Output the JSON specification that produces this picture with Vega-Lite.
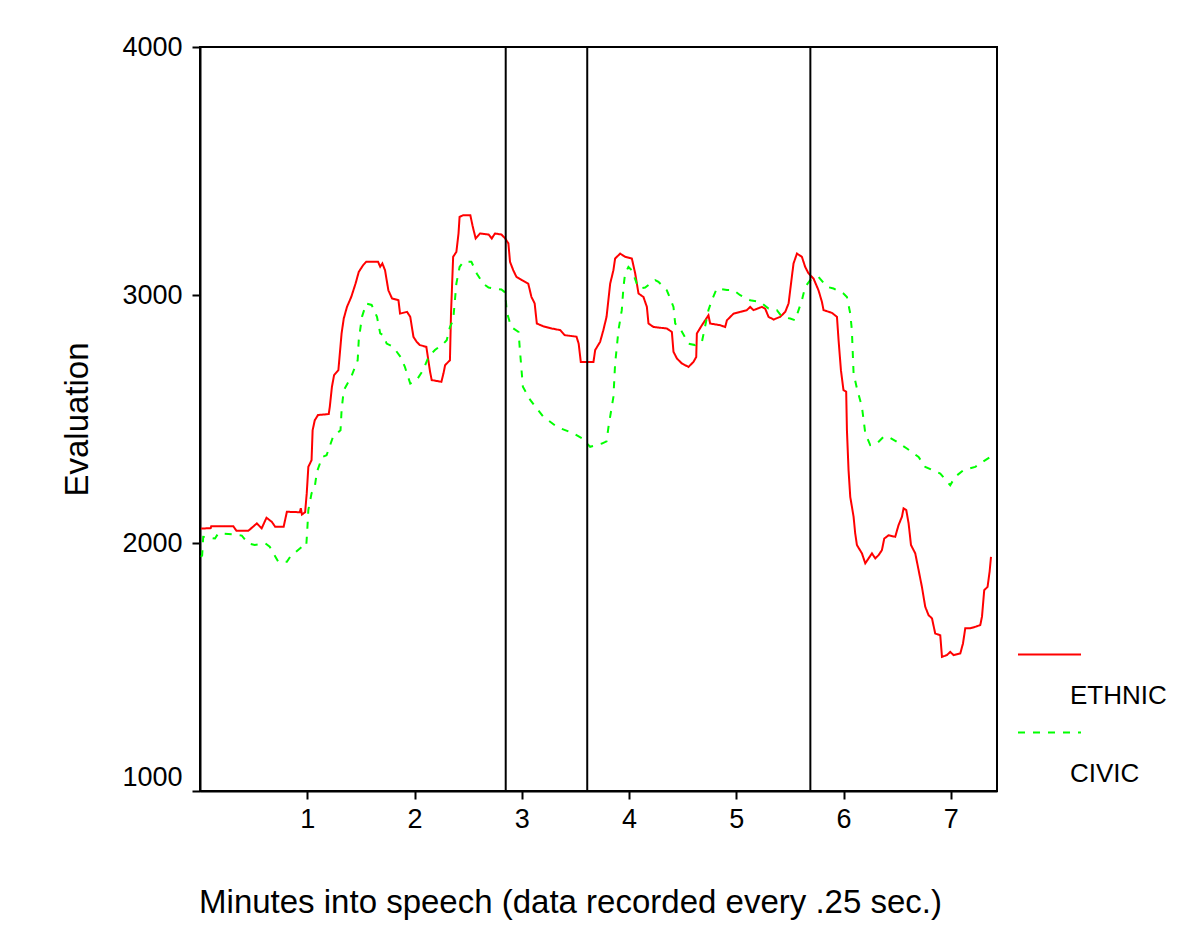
{
  "$schema": "https://vega.github.io/schema/vega-lite/v6.json",
  "description": "Evaluation over the course of a speech, ethnic vs civic",
  "width": 797,
  "height": 744,
  "autosize": {"type": "none"},
  "padding": {"left": 200, "top": 47, "right": 184, "bottom": 155},
  "background": "white",
  "datasets": {
    "speech": [
      {"s": "ETHNIC", "t": 0.01, "v": 2058}, {"s": "ETHNIC", "t": 0.10, "v": 2060}, {"s": "ETHNIC", "t": 0.105, "v": 2068},
      {"s": "ETHNIC", "t": 0.31, "v": 2068}, {"s": "ETHNIC", "t": 0.34, "v": 2049}, {"s": "ETHNIC", "t": 0.45, "v": 2049},
      {"s": "ETHNIC", "t": 0.53, "v": 2079}, {"s": "ETHNIC", "t": 0.575, "v": 2059}, {"s": "ETHNIC", "t": 0.62, "v": 2102},
      {"s": "ETHNIC", "t": 0.67, "v": 2085}, {"s": "ETHNIC", "t": 0.70, "v": 2066}, {"s": "ETHNIC", "t": 0.78, "v": 2066},
      {"s": "ETHNIC", "t": 0.81, "v": 2126}, {"s": "ETHNIC", "t": 0.93, "v": 2124}, {"s": "ETHNIC", "t": 0.94, "v": 2140},
      {"s": "ETHNIC", "t": 0.95, "v": 2115}, {"s": "ETHNIC", "t": 0.98, "v": 2124}, {"s": "ETHNIC", "t": 0.995, "v": 2200},
      {"s": "ETHNIC", "t": 1.01, "v": 2307}, {"s": "ETHNIC", "t": 1.04, "v": 2334}, {"s": "ETHNIC", "t": 1.05, "v": 2455},
      {"s": "ETHNIC", "t": 1.07, "v": 2495}, {"s": "ETHNIC", "t": 1.10, "v": 2516}, {"s": "ETHNIC", "t": 1.20, "v": 2520},
      {"s": "ETHNIC", "t": 1.21, "v": 2549}, {"s": "ETHNIC", "t": 1.23, "v": 2630}, {"s": "ETHNIC", "t": 1.25, "v": 2677},
      {"s": "ETHNIC", "t": 1.29, "v": 2697}, {"s": "ETHNIC", "t": 1.32, "v": 2845}, {"s": "ETHNIC", "t": 1.34, "v": 2905},
      {"s": "ETHNIC", "t": 1.37, "v": 2952}, {"s": "ETHNIC", "t": 1.41, "v": 2992}, {"s": "ETHNIC", "t": 1.45, "v": 3046},
      {"s": "ETHNIC", "t": 1.48, "v": 3093}, {"s": "ETHNIC", "t": 1.52, "v": 3120}, {"s": "ETHNIC", "t": 1.55, "v": 3134},
      {"s": "ETHNIC", "t": 1.66, "v": 3134}, {"s": "ETHNIC", "t": 1.68, "v": 3114}, {"s": "ETHNIC", "t": 1.70, "v": 3127},
      {"s": "ETHNIC", "t": 1.725, "v": 3100}, {"s": "ETHNIC", "t": 1.756, "v": 3019}, {"s": "ETHNIC", "t": 1.79, "v": 2986},
      {"s": "ETHNIC", "t": 1.85, "v": 2979}, {"s": "ETHNIC", "t": 1.865, "v": 2925}, {"s": "ETHNIC", "t": 1.93, "v": 2932},
      {"s": "ETHNIC", "t": 1.96, "v": 2912}, {"s": "ETHNIC", "t": 1.99, "v": 2831}, {"s": "ETHNIC", "t": 2.02, "v": 2811},
      {"s": "ETHNIC", "t": 2.05, "v": 2798}, {"s": "ETHNIC", "t": 2.11, "v": 2791}, {"s": "ETHNIC", "t": 2.145, "v": 2690},
      {"s": "ETHNIC", "t": 2.16, "v": 2657}, {"s": "ETHNIC", "t": 2.25, "v": 2650}, {"s": "ETHNIC", "t": 2.27, "v": 2684},
      {"s": "ETHNIC", "t": 2.285, "v": 2717}, {"s": "ETHNIC", "t": 2.33, "v": 2737}, {"s": "ETHNIC", "t": 2.34, "v": 2925},
      {"s": "ETHNIC", "t": 2.36, "v": 3154}, {"s": "ETHNIC", "t": 2.39, "v": 3174}, {"s": "ETHNIC", "t": 2.41, "v": 3248},
      {"s": "ETHNIC", "t": 2.42, "v": 3315}, {"s": "ETHNIC", "t": 2.455, "v": 3322}, {"s": "ETHNIC", "t": 2.52, "v": 3322},
      {"s": "ETHNIC", "t": 2.54, "v": 3281}, {"s": "ETHNIC", "t": 2.555, "v": 3254}, {"s": "ETHNIC", "t": 2.57, "v": 3228},
      {"s": "ETHNIC", "t": 2.61, "v": 3248}, {"s": "ETHNIC", "t": 2.69, "v": 3244}, {"s": "ETHNIC", "t": 2.72, "v": 3228},
      {"s": "ETHNIC", "t": 2.75, "v": 3248}, {"s": "ETHNIC", "t": 2.81, "v": 3244}, {"s": "ETHNIC", "t": 2.845, "v": 3228},
      {"s": "ETHNIC", "t": 2.875, "v": 3208}, {"s": "ETHNIC", "t": 2.89, "v": 3134}, {"s": "ETHNIC", "t": 2.92, "v": 3100},
      {"s": "ETHNIC", "t": 2.95, "v": 3073}, {"s": "ETHNIC", "t": 3.00, "v": 3060}, {"s": "ETHNIC", "t": 3.06, "v": 3046},
      {"s": "ETHNIC", "t": 3.09, "v": 2992}, {"s": "ETHNIC", "t": 3.12, "v": 2966}, {"s": "ETHNIC", "t": 3.14, "v": 2885},
      {"s": "ETHNIC", "t": 3.20, "v": 2874}, {"s": "ETHNIC", "t": 3.28, "v": 2865}, {"s": "ETHNIC", "t": 3.36, "v": 2858},
      {"s": "ETHNIC", "t": 3.40, "v": 2838}, {"s": "ETHNIC", "t": 3.51, "v": 2832}, {"s": "ETHNIC", "t": 3.53, "v": 2804},
      {"s": "ETHNIC", "t": 3.55, "v": 2730}, {"s": "ETHNIC", "t": 3.668, "v": 2730}, {"s": "ETHNIC", "t": 3.684, "v": 2778},
      {"s": "ETHNIC", "t": 3.73, "v": 2811}, {"s": "ETHNIC", "t": 3.76, "v": 2858}, {"s": "ETHNIC", "t": 3.79, "v": 2912},
      {"s": "ETHNIC", "t": 3.824, "v": 3046}, {"s": "ETHNIC", "t": 3.854, "v": 3100}, {"s": "ETHNIC", "t": 3.87, "v": 3147},
      {"s": "ETHNIC", "t": 3.917, "v": 3167}, {"s": "ETHNIC", "t": 3.963, "v": 3154}, {"s": "ETHNIC", "t": 4.026, "v": 3147},
      {"s": "ETHNIC", "t": 4.057, "v": 3087}, {"s": "ETHNIC", "t": 4.088, "v": 3006}, {"s": "ETHNIC", "t": 4.134, "v": 2992},
      {"s": "ETHNIC", "t": 4.166, "v": 2952}, {"s": "ETHNIC", "t": 4.181, "v": 2885}, {"s": "ETHNIC", "t": 4.228, "v": 2871},
      {"s": "ETHNIC", "t": 4.352, "v": 2865}, {"s": "ETHNIC", "t": 4.399, "v": 2851}, {"s": "ETHNIC", "t": 4.414, "v": 2771},
      {"s": "ETHNIC", "t": 4.446, "v": 2744}, {"s": "ETHNIC", "t": 4.492, "v": 2724}, {"s": "ETHNIC", "t": 4.554, "v": 2710},
      {"s": "ETHNIC", "t": 4.60, "v": 2730}, {"s": "ETHNIC", "t": 4.626, "v": 2750}, {"s": "ETHNIC", "t": 4.632, "v": 2845},
      {"s": "ETHNIC", "t": 4.679, "v": 2878}, {"s": "ETHNIC", "t": 4.74, "v": 2918}, {"s": "ETHNIC", "t": 4.756, "v": 2885},
      {"s": "ETHNIC", "t": 4.85, "v": 2878}, {"s": "ETHNIC", "t": 4.896, "v": 2871}, {"s": "ETHNIC", "t": 4.912, "v": 2898},
      {"s": "ETHNIC", "t": 4.974, "v": 2925}, {"s": "ETHNIC", "t": 5.036, "v": 2932}, {"s": "ETHNIC", "t": 5.098, "v": 2939},
      {"s": "ETHNIC", "t": 5.129, "v": 2952}, {"s": "ETHNIC", "t": 5.16, "v": 2939}, {"s": "ETHNIC", "t": 5.238, "v": 2952},
      {"s": "ETHNIC", "t": 5.269, "v": 2945}, {"s": "ETHNIC", "t": 5.30, "v": 2912}, {"s": "ETHNIC", "t": 5.347, "v": 2901},
      {"s": "ETHNIC", "t": 5.409, "v": 2912}, {"s": "ETHNIC", "t": 5.456, "v": 2932}, {"s": "ETHNIC", "t": 5.487, "v": 2966},
      {"s": "ETHNIC", "t": 5.502, "v": 3019}, {"s": "ETHNIC", "t": 5.533, "v": 3127}, {"s": "ETHNIC", "t": 5.565, "v": 3167},
      {"s": "ETHNIC", "t": 5.611, "v": 3154}, {"s": "ETHNIC", "t": 5.642, "v": 3113}, {"s": "ETHNIC", "t": 5.673, "v": 3087},
      {"s": "ETHNIC", "t": 5.72, "v": 3066}, {"s": "ETHNIC", "t": 5.766, "v": 3019}, {"s": "ETHNIC", "t": 5.798, "v": 2972},
      {"s": "ETHNIC", "t": 5.813, "v": 2939}, {"s": "ETHNIC", "t": 5.891, "v": 2928}, {"s": "ETHNIC", "t": 5.938, "v": 2912},
      {"s": "ETHNIC", "t": 5.953, "v": 2818}, {"s": "ETHNIC", "t": 5.975, "v": 2697}, {"s": "ETHNIC", "t": 5.999, "v": 2616},
      {"s": "ETHNIC", "t": 6.024, "v": 2610}, {"s": "ETHNIC", "t": 6.031, "v": 2455}, {"s": "ETHNIC", "t": 6.046, "v": 2294},
      {"s": "ETHNIC", "t": 6.062, "v": 2186}, {"s": "ETHNIC", "t": 6.093, "v": 2106}, {"s": "ETHNIC", "t": 6.108, "v": 2039},
      {"s": "ETHNIC", "t": 6.124, "v": 1992}, {"s": "ETHNIC", "t": 6.171, "v": 1958}, {"s": "ETHNIC", "t": 6.202, "v": 1918},
      {"s": "ETHNIC", "t": 6.233, "v": 1938}, {"s": "ETHNIC", "t": 6.264, "v": 1958}, {"s": "ETHNIC", "t": 6.295, "v": 1938},
      {"s": "ETHNIC", "t": 6.326, "v": 1951}, {"s": "ETHNIC", "t": 6.357, "v": 1971}, {"s": "ETHNIC", "t": 6.379, "v": 2018},
      {"s": "ETHNIC", "t": 6.419, "v": 2031}, {"s": "ETHNIC", "t": 6.481, "v": 2025}, {"s": "ETHNIC", "t": 6.512, "v": 2072},
      {"s": "ETHNIC", "t": 6.544, "v": 2106}, {"s": "ETHNIC", "t": 6.559, "v": 2140}, {"s": "ETHNIC", "t": 6.584, "v": 2133},
      {"s": "ETHNIC", "t": 6.606, "v": 2079}, {"s": "ETHNIC", "t": 6.628, "v": 1992}, {"s": "ETHNIC", "t": 6.668, "v": 1958},
      {"s": "ETHNIC", "t": 6.699, "v": 1891}, {"s": "ETHNIC", "t": 6.73, "v": 1823}, {"s": "ETHNIC", "t": 6.761, "v": 1743},
      {"s": "ETHNIC", "t": 6.792, "v": 1709}, {"s": "ETHNIC", "t": 6.824, "v": 1696}, {"s": "ETHNIC", "t": 6.854, "v": 1635},
      {"s": "ETHNIC", "t": 6.901, "v": 1628}, {"s": "ETHNIC", "t": 6.917, "v": 1541}, {"s": "ETHNIC", "t": 6.963, "v": 1548},
      {"s": "ETHNIC", "t": 6.994, "v": 1561}, {"s": "ETHNIC", "t": 7.025, "v": 1548}, {"s": "ETHNIC", "t": 7.088, "v": 1555},
      {"s": "ETHNIC", "t": 7.113, "v": 1595}, {"s": "ETHNIC", "t": 7.134, "v": 1656}, {"s": "ETHNIC", "t": 7.181, "v": 1656},
      {"s": "ETHNIC", "t": 7.227, "v": 1662}, {"s": "ETHNIC", "t": 7.274, "v": 1669}, {"s": "ETHNIC", "t": 7.29, "v": 1703},
      {"s": "ETHNIC", "t": 7.311, "v": 1810}, {"s": "ETHNIC", "t": 7.342, "v": 1823}, {"s": "ETHNIC", "t": 7.361, "v": 1884},
      {"s": "ETHNIC", "t": 7.374, "v": 1944},
      {"s": "CIVIC", "t": 0.01, "v": 1944}, {"s": "CIVIC", "t": 0.02, "v": 1950}, {"s": "CIVIC", "t": 0.03, "v": 2025},
      {"s": "CIVIC", "t": 0.14, "v": 2018}, {"s": "CIVIC", "t": 0.17, "v": 2039}, {"s": "CIVIC", "t": 0.31, "v": 2035},
      {"s": "CIVIC", "t": 0.39, "v": 2030}, {"s": "CIVIC", "t": 0.45, "v": 1998}, {"s": "CIVIC", "t": 0.51, "v": 1992},
      {"s": "CIVIC", "t": 0.61, "v": 1998}, {"s": "CIVIC", "t": 0.65, "v": 1985}, {"s": "CIVIC", "t": 0.73, "v": 1924},
      {"s": "CIVIC", "t": 0.81, "v": 1924}, {"s": "CIVIC", "t": 0.84, "v": 1944}, {"s": "CIVIC", "t": 0.95, "v": 1985},
      {"s": "CIVIC", "t": 0.99, "v": 1985}, {"s": "CIVIC", "t": 1.00, "v": 2052}, {"s": "CIVIC", "t": 1.01, "v": 2133},
      {"s": "CIVIC", "t": 1.04, "v": 2200}, {"s": "CIVIC", "t": 1.07, "v": 2227}, {"s": "CIVIC", "t": 1.09, "v": 2287},
      {"s": "CIVIC", "t": 1.14, "v": 2347}, {"s": "CIVIC", "t": 1.18, "v": 2354}, {"s": "CIVIC", "t": 1.24, "v": 2428},
      {"s": "CIVIC", "t": 1.31, "v": 2455}, {"s": "CIVIC", "t": 1.32, "v": 2536}, {"s": "CIVIC", "t": 1.34, "v": 2616},
      {"s": "CIVIC", "t": 1.41, "v": 2670}, {"s": "CIVIC", "t": 1.47, "v": 2737}, {"s": "CIVIC", "t": 1.48, "v": 2818},
      {"s": "CIVIC", "t": 1.51, "v": 2912}, {"s": "CIVIC", "t": 1.55, "v": 2966}, {"s": "CIVIC", "t": 1.60, "v": 2960},
      {"s": "CIVIC", "t": 1.65, "v": 2912}, {"s": "CIVIC", "t": 1.68, "v": 2845}, {"s": "CIVIC", "t": 1.71, "v": 2838},
      {"s": "CIVIC", "t": 1.74, "v": 2804}, {"s": "CIVIC", "t": 1.80, "v": 2791}, {"s": "CIVIC", "t": 1.87, "v": 2750},
      {"s": "CIVIC", "t": 1.91, "v": 2710}, {"s": "CIVIC", "t": 1.96, "v": 2643}, {"s": "CIVIC", "t": 2.02, "v": 2657},
      {"s": "CIVIC", "t": 2.08, "v": 2697}, {"s": "CIVIC", "t": 2.13, "v": 2750}, {"s": "CIVIC", "t": 2.19, "v": 2778},
      {"s": "CIVIC", "t": 2.27, "v": 2804}, {"s": "CIVIC", "t": 2.30, "v": 2818}, {"s": "CIVIC", "t": 2.33, "v": 2871},
      {"s": "CIVIC", "t": 2.36, "v": 2898}, {"s": "CIVIC", "t": 2.39, "v": 3046}, {"s": "CIVIC", "t": 2.42, "v": 3113},
      {"s": "CIVIC", "t": 2.455, "v": 3134}, {"s": "CIVIC", "t": 2.53, "v": 3134}, {"s": "CIVIC", "t": 2.58, "v": 3087},
      {"s": "CIVIC", "t": 2.64, "v": 3046}, {"s": "CIVIC", "t": 2.69, "v": 3030}, {"s": "CIVIC", "t": 2.81, "v": 3022},
      {"s": "CIVIC", "t": 2.845, "v": 3010}, {"s": "CIVIC", "t": 2.86, "v": 2932}, {"s": "CIVIC", "t": 2.90, "v": 2871},
      {"s": "CIVIC", "t": 2.97, "v": 2851}, {"s": "CIVIC", "t": 2.98, "v": 2791}, {"s": "CIVIC", "t": 3.01, "v": 2630},
      {"s": "CIVIC", "t": 3.08, "v": 2576}, {"s": "CIVIC", "t": 3.20, "v": 2509}, {"s": "CIVIC", "t": 3.33, "v": 2468},
      {"s": "CIVIC", "t": 3.48, "v": 2442}, {"s": "CIVIC", "t": 3.56, "v": 2422}, {"s": "CIVIC", "t": 3.637, "v": 2388},
      {"s": "CIVIC", "t": 3.746, "v": 2401}, {"s": "CIVIC", "t": 3.79, "v": 2410}, {"s": "CIVIC", "t": 3.808, "v": 2468},
      {"s": "CIVIC", "t": 3.854, "v": 2589}, {"s": "CIVIC", "t": 3.87, "v": 2724}, {"s": "CIVIC", "t": 3.886, "v": 2791},
      {"s": "CIVIC", "t": 3.901, "v": 2858}, {"s": "CIVIC", "t": 3.932, "v": 2939}, {"s": "CIVIC", "t": 3.948, "v": 3033},
      {"s": "CIVIC", "t": 3.963, "v": 3087}, {"s": "CIVIC", "t": 3.994, "v": 3113}, {"s": "CIVIC", "t": 4.026, "v": 3100},
      {"s": "CIVIC", "t": 4.072, "v": 3046}, {"s": "CIVIC", "t": 4.103, "v": 3026}, {"s": "CIVIC", "t": 4.15, "v": 3030},
      {"s": "CIVIC", "t": 4.197, "v": 3046}, {"s": "CIVIC", "t": 4.243, "v": 3060}, {"s": "CIVIC", "t": 4.274, "v": 3053},
      {"s": "CIVIC", "t": 4.352, "v": 3019}, {"s": "CIVIC", "t": 4.414, "v": 2952}, {"s": "CIVIC", "t": 4.43, "v": 2885},
      {"s": "CIVIC", "t": 4.476, "v": 2865}, {"s": "CIVIC", "t": 4.554, "v": 2804}, {"s": "CIVIC", "t": 4.616, "v": 2798},
      {"s": "CIVIC", "t": 4.679, "v": 2811}, {"s": "CIVIC", "t": 4.74, "v": 2939}, {"s": "CIVIC", "t": 4.772, "v": 2979},
      {"s": "CIVIC", "t": 4.818, "v": 3026}, {"s": "CIVIC", "t": 4.912, "v": 3020}, {"s": "CIVIC", "t": 4.974, "v": 3020},
      {"s": "CIVIC", "t": 5.036, "v": 2999}, {"s": "CIVIC", "t": 5.129, "v": 2979}, {"s": "CIVIC", "t": 5.222, "v": 2972},
      {"s": "CIVIC", "t": 5.30, "v": 2945}, {"s": "CIVIC", "t": 5.378, "v": 2939}, {"s": "CIVIC", "t": 5.425, "v": 2912},
      {"s": "CIVIC", "t": 5.502, "v": 2905}, {"s": "CIVIC", "t": 5.549, "v": 2898}, {"s": "CIVIC", "t": 5.58, "v": 2939},
      {"s": "CIVIC", "t": 5.611, "v": 2979}, {"s": "CIVIC", "t": 5.642, "v": 3033}, {"s": "CIVIC", "t": 5.689, "v": 3060},
      {"s": "CIVIC", "t": 5.766, "v": 3073}, {"s": "CIVIC", "t": 5.844, "v": 3033}, {"s": "CIVIC", "t": 5.906, "v": 3026},
      {"s": "CIVIC", "t": 5.999, "v": 3006}, {"s": "CIVIC", "t": 6.031, "v": 2992}, {"s": "CIVIC", "t": 6.062, "v": 2925},
      {"s": "CIVIC", "t": 6.077, "v": 2858}, {"s": "CIVIC", "t": 6.093, "v": 2684}, {"s": "CIVIC", "t": 6.124, "v": 2623},
      {"s": "CIVIC", "t": 6.171, "v": 2549}, {"s": "CIVIC", "t": 6.202, "v": 2442}, {"s": "CIVIC", "t": 6.248, "v": 2395},
      {"s": "CIVIC", "t": 6.31, "v": 2401}, {"s": "CIVIC", "t": 6.372, "v": 2428}, {"s": "CIVIC", "t": 6.419, "v": 2428},
      {"s": "CIVIC", "t": 6.497, "v": 2408}, {"s": "CIVIC", "t": 6.59, "v": 2381}, {"s": "CIVIC", "t": 6.699, "v": 2347},
      {"s": "CIVIC", "t": 6.761, "v": 2307}, {"s": "CIVIC", "t": 6.901, "v": 2280}, {"s": "CIVIC", "t": 6.994, "v": 2233},
      {"s": "CIVIC", "t": 7.04, "v": 2267}, {"s": "CIVIC", "t": 7.118, "v": 2294}, {"s": "CIVIC", "t": 7.227, "v": 2307},
      {"s": "CIVIC", "t": 7.367, "v": 2347}, {"s": "CIVIC", "t": 7.39, "v": 2355}
    ],
    "sections": [
      {"t": 2.85}, {"t": 3.61}, {"t": 5.69}
    ]
  },
  "layer": [
    {
      "data": {"name": "speech"},
      "mark": {"type": "line", "strokeWidth": 2, "interpolate": "linear", "color": "#00ff00"},
      "encoding": {
        "x": {
          "field": "t",
          "type": "quantitative",
          "scale": {"domain": [0, 7.43], "nice": false, "zero": false},
          "axis": {
            "title": "Minutes into speech (data recorded every .25 sec.)",
            "values": [1, 2, 3, 4, 5, 6, 7],
            "format": "d",
            "labelPadding": 7,
            "titlePadding": 54,
            "titleX": 370
          }
        },
        "y": {
          "field": "v",
          "type": "quantitative",
          "scale": {"domain": [1000, 4000], "nice": false, "zero": false},
          "axis": {
            "title": "Evaluation",
            "values": [1000, 2000, 3000, 4000],
            "format": "d",
            "labelPadding": 10,
            "titlePadding": 27,
            "labelOffset": {"condition": {"test": "datum.value === 1000", "value": -14}, "value": 0}
          }
        },
        "color": {
          "field": "s",
          "type": "nominal",
          "scale": {"domain": ["ETHNIC", "CIVIC"], "range": ["#ff0000", "#00ff00"]},
          "legend": {
            "title": null,
            "values": ["ETHNIC"],
            "orient": "none",
            "legendX": 817,
            "legendY": 575,
            "symbolType": "stroke",
            "symbolSize": 3969,
            "symbolStrokeWidth": 2,
            "labelFontSize": 26,
            "labelColor": "black",
            "labelOffset": -12,
            "labelBaseline": "top",
            "labelExpr": "['', datum.label]"
          }
        },
        "strokeDash": {
          "field": "s",
          "type": "nominal",
          "scale": {"domain": ["CIVIC", "ETHNIC"], "range": [[7, 8], [1, 0]]},
          "legend": {
            "title": null,
            "values": ["CIVIC"],
            "orient": "none",
            "legendX": 817,
            "legendY": 653,
            "symbolType": "stroke",
            "symbolSize": 3969,
            "symbolStrokeWidth": 2,
            "symbolStrokeColor": "#00ff00",
            "labelFontSize": 26,
            "labelColor": "black",
            "labelOffset": -12,
            "labelBaseline": "top",
            "labelExpr": "['', datum.label]"
          }
        }
      }
    },
    {
      "data": {"name": "sections"},
      "mark": {"type": "rule", "color": "black", "strokeWidth": 2},
      "encoding": {
        "x": {"field": "t", "type": "quantitative"}
      }
    }
  ],
  "config": {
    "font": "Liberation Sans",
    "view": {"stroke": "black", "strokeWidth": 2},
    "axis": {
      "grid": false,
      "domainColor": "black",
      "domainWidth": 2,
      "tickColor": "black",
      "tickWidth": 2,
      "tickSize": 8,
      "labelColor": "black",
      "labelFontSize": 27,
      "labelFont": "Liberation Sans",
      "titleColor": "black",
      "titleFont": "Liberation Sans",
      "titleFontSize": 33,
      "titleFontWeight": "normal"
    },
    "legend": {"labelFont": "Liberation Sans"}
  }
}
